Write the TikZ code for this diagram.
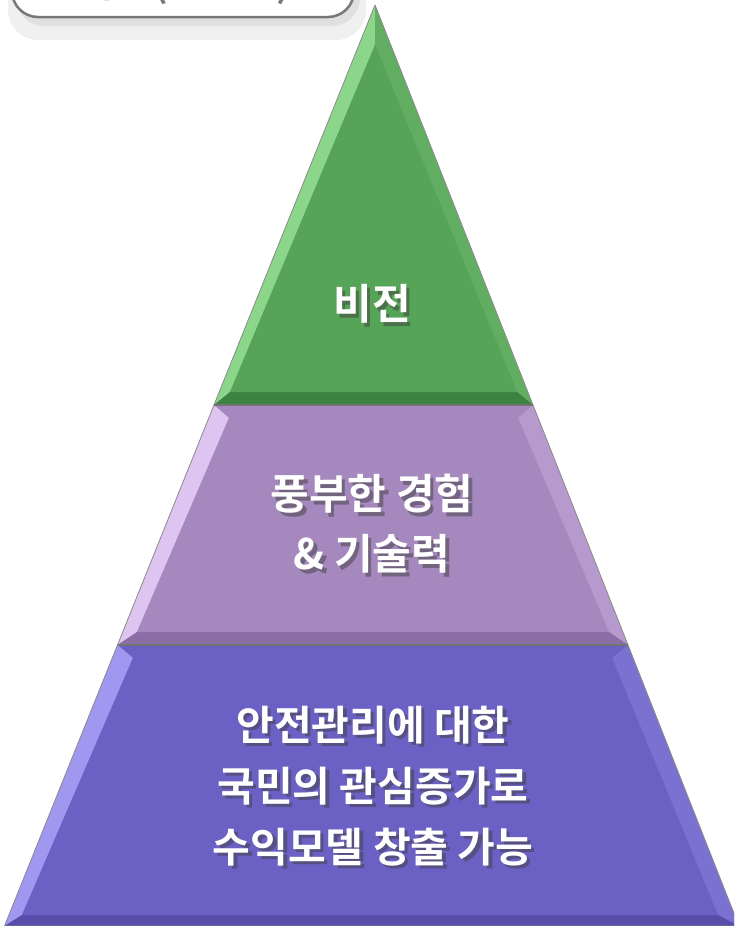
\documentclass[tikz,border=0pt]{standalone}
\usepackage{fontspec}
\newfontfamily\kr{Noto Sans CJK KR}[BoldFont={Noto Sans CJK KR Bold}]
\usetikzlibrary{calc}
\definecolor{gbody}{RGB}{86,164,88}
\definecolor{glight}{RGB}{140,214,140}
\definecolor{gdark}{RGB}{62,130,66}
\definecolor{pbody}{RGB}{165,136,190}
\definecolor{plight}{RGB}{222,196,240}
\definecolor{pdark}{RGB}{138,110,165}
\definecolor{bbody}{RGB}{107,97,196}
\definecolor{blight}{RGB}{160,152,240}
\definecolor{bdark}{RGB}{88,78,170}
\definecolor{labgray}{RGB}{120,120,120}
\tikzset{
  lvltext/.style={text=white,align=center},
  shadowtext/.style={text=black!75,opacity=0.5,align=center},
  edge/.style={draw=black!45,line width=0.8pt,line join=round}
}
\begin{document}
\begin{tikzpicture}[x=1pt,y=-1pt]
\useasboundingbox (0,0) rectangle (734,926);
\clip (0,0) rectangle (734,926);
% label box (cut off at top)
\fill[black!6,rounded corners=30] (8,-60) rectangle (366,40);
\fill[black!12,rounded corners=28] (16,-60) rectangle (360,26);
\draw[labgray,fill=white,line width=2.5pt,rounded corners=26] (12,-60) rectangle (354,17);
\node[text=labgray,font=\kr\bfseries\fontsize{36}{40}\selectfont] (lab) at (185,-14) {비전 (Vision)};
% points
\coordinate (A) at (375,5);
\coordinate (L1) at (214,405);
\coordinate (R1) at (533,405);
\coordinate (L2) at (117.5,645);
\coordinate (R2) at (628,645);
\coordinate (L3) at (4.5,926);
\coordinate (R3) at (739,926);
% green
\fill[gbody] (A) -- (L1) -- (R1) -- cycle;
\coordinate (iA) at (375,45);
\coordinate (iL1) at (230,392);
\coordinate (iR1) at (517,392);
\fill[glight] (A) -- (L1) -- (iL1) -- (iA) -- cycle;
\fill[gbody!80!glight] (A) -- (R1) -- (iR1) -- (iA) -- cycle;
\fill[gdark] (L1) -- (R1) -- (iR1) -- (iL1) -- cycle;
\fill[gbody] (iA) -- (iL1) -- (iR1) -- cycle;
\draw[edge] (A) -- (L1) -- (R1) -- cycle;
% purple
\fill[pbody] (L1) -- (L2) -- (R2) -- (R1) -- cycle;
\coordinate (iL1b) at (229,418);
\coordinate (iR1b) at (518,418);
\coordinate (iL2) at (137,632);
\coordinate (iR2) at (609,632);
\fill[plight] (L1) -- (L2) -- (iL2) -- (iL1b) -- cycle;
\fill[pbody!70!plight] (R1) -- (R2) -- (iR2) -- (iR1b) -- cycle;
\fill[pdark] (L2) -- (R2) -- (iR2) -- (iL2) -- cycle;
\fill[pbody] (iL1b) -- (iL2) -- (iR2) -- (iR1b) -- cycle;
\draw[edge] (L1) -- (L2) -- (R2) -- (R1) -- cycle;
% blue
\fill[bbody] (L2) -- (L3) -- (R3) -- (R2) -- cycle;
\coordinate (iL2b) at (133,658);
\coordinate (iR2b) at (612,658);
\coordinate (iL3) at (22,915);
\coordinate (iR3) at (718,915);
\fill[blight] (L2) -- (L3) -- (iL3) -- (iL2b) -- cycle;
\fill[bbody!70!blight] (R2) -- (R3) -- (iR3) -- (iR2b) -- cycle;
\fill[bdark] (L3) -- (R3) -- (iR3) -- (iL3) -- cycle;
\fill[bbody] (iL2b) -- (iL3) -- (iR3) -- (iR2b) -- cycle;
\draw[edge] (L2) -- (L3) -- (R3) -- (R2) -- cycle;
\draw[black!55,line width=1.2pt] (L1) -- (R1);
\draw[black!55,line width=1.2pt] (L2) -- (R2);
% texts
\node[shadowtext,font=\kr\bfseries\fontsize{42}{44}\selectfont] at (375.5,307.5) {비전};
\node[lvltext,font=\kr\bfseries\fontsize{42}{44}\selectfont] (t1) at (372,304) {비전};
\node[shadowtext,font=\kr\bfseries\fontsize{42}{60}\selectfont] at (375.5,527.5) {풍부한 경험\\\& 기술력};
\node[lvltext,font=\kr\bfseries\fontsize{42}{60}\selectfont] (t2) at (372,524) {풍부한 경험\\\& 기술력};
\node[shadowtext,font=\kr\bfseries\fontsize{41}{61}\selectfont] at (376.5,789.5) {안전관리에 대한\\국민의 관심증가로\\수익모델 창출 가능};
\node[lvltext,font=\kr\bfseries\fontsize{41}{61}\selectfont] (t3) at (373,786) {안전관리에 대한\\국민의 관심증가로\\수익모델 창출 가능};
\end{tikzpicture}
\end{document}
